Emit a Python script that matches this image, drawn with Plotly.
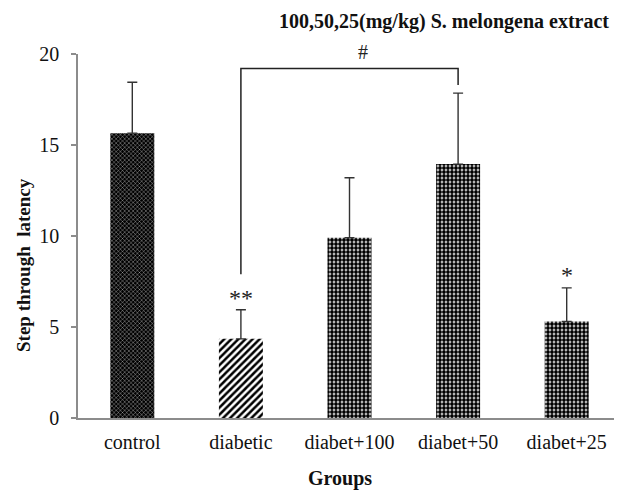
import plotly.graph_objects as go

groups = ["control", "diabetic", "diabet+100", "diabet+50", "diabet+25"]
latency = [15.65, 4.35, 9.9, 13.95, 5.3]
sem = [2.8, 1.6, 3.3, 3.9, 1.85]
y_ticks = [0, 5, 10, 15, 20]

bracket_x = ["diabetic", "diabetic", "diabet+50", "diabet+50"]
bracket_y = [7.9, 19.2, 19.2, 18.3]

marks = [("diabetic", 6.6, "**"), ("diabet+25", 7.85, "*")]

FONT = "Liberation Serif"

patterns = [
    dict(shape="x", bgcolor="#000000", fgcolor="#ffffff", size=3, solidity=0.2, fillmode="replace"),
    dict(shape="/", bgcolor="#ffffff", fgcolor="#000000", size=5, solidity=0.5, fillmode="replace"),
    dict(shape=".", bgcolor="#ffffff", fgcolor="#000000", size=4, solidity=0.72, fillmode="replace"),
    dict(shape=".", bgcolor="#ffffff", fgcolor="#000000", size=4, solidity=0.72, fillmode="replace"),
    dict(shape=".", bgcolor="#ffffff", fgcolor="#000000", size=4, solidity=0.72, fillmode="replace"),
]

fig = go.Figure()
for g, v, e, p in zip(groups, latency, sem, patterns):
    fig.add_trace(go.Bar(
        x=[g], y=[v],
        marker=dict(color="#ffffff", pattern=p, line=dict(width=0)),
        error_y=dict(type="data", array=[e], arrayminus=[0], symmetric=False,
                     color="#333333", thickness=1.4, width=5),
        showlegend=False,
    ))

fig.add_trace(go.Scatter(
    x=bracket_x, y=bracket_y, mode="lines",
    line=dict(color="#222222", width=1.5), showlegend=False, cliponaxis=False,
))

annotations = []
for g, yv, t in marks:
    annotations.append(dict(x=g, y=yv, xref="x", yref="y", text=t, showarrow=False,
                            font=dict(family=FONT, size=24, color="#222222"),
                            xanchor="center", yanchor="middle"))
annotations.append(dict(x=2.12, y=1.006, xref="x", yref="paper", text="#", showarrow=False,
                        font=dict(family=FONT, size=20, color="#222222"),
                        xanchor="center", yanchor="middle"))
annotations.append(dict(x=0.674, y=1.088, xref="paper", yref="paper",
                        text="<b>100,50,25(mg/kg) S. melongena extract</b>", showarrow=False,
                        font=dict(family=FONT, size=20, color="#111111"),
                        xanchor="center", yanchor="middle"))
annotations.append(dict(x=-0.1013, y=0.4203, xref="paper", yref="paper",
                        text="<b>Step through  latency</b>", showarrow=False, textangle=-90,
                        font=dict(family=FONT, size=19, color="#111111"),
                        xanchor="center", yanchor="middle"))
annotations.append(dict(x=0.4825, y=-0.165, xref="paper", yref="paper",
                        text="<b>Groups</b>", showarrow=False,
                        font=dict(family=FONT, size=20, color="#111111"),
                        xanchor="center", yanchor="middle"))

fig.update_layout(
    width=614, height=485,
    margin=dict(l=70, r=1, t=46, b=75),
    paper_bgcolor="white", plot_bgcolor="white",
    bargap=0.595,
    annotations=annotations,
    font=dict(family=FONT, size=20, color="#111111"),
)
fig.update_xaxes(
    categoryorder="array", categoryarray=groups,
    showline=True, linecolor="#8c8c8c", linewidth=1.5,
    ticks="", showgrid=False, zeroline=False,
    tickfont=dict(family=FONT, size=20, color="#111111"),
    ticklabelstandoff=5,
)
fig.update_yaxes(
    range=[0, 20], tickvals=y_ticks,
    showline=True, linecolor="#8c8c8c", linewidth=1.5,
    ticks="outside", ticklen=5, tickcolor="#8c8c8c", tickwidth=1.5,
    showgrid=False, zeroline=False,
    tickfont=dict(family=FONT, size=20, color="#111111"),
    ticklabelstandoff=8,
)

fig.write_html("out.html")
